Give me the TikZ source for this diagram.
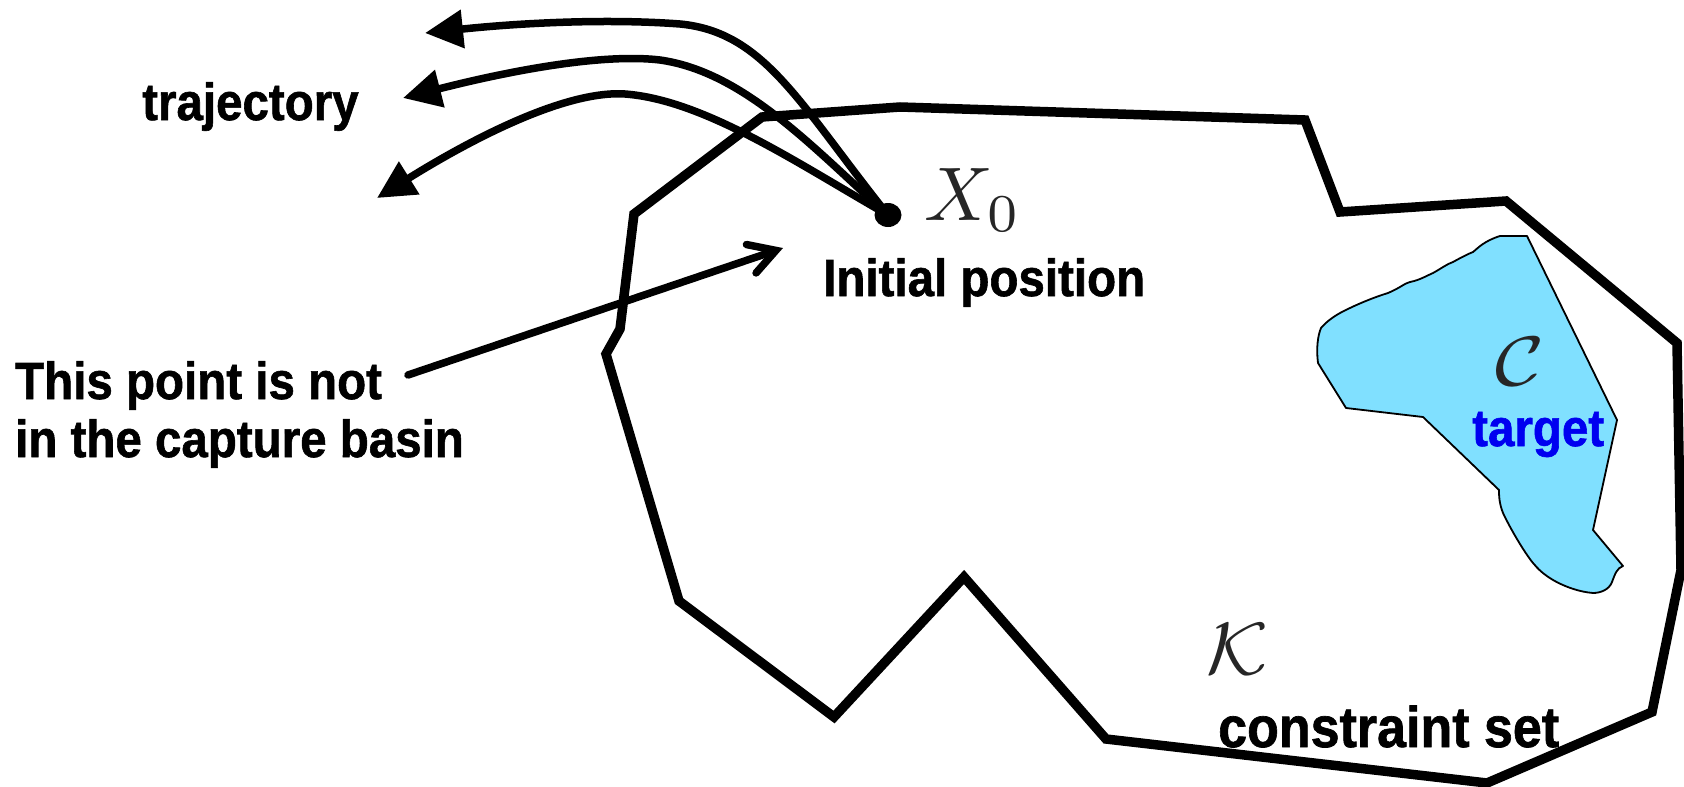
\documentclass[tikz,border=0pt]{standalone}
\usepackage[no-math]{fontspec}
\newfontfamily\labfont[BoldFeatures={FakeBold=1.2}]{Liberation Sans}
\usetikzlibrary{arrows.meta,shapes.geometric}
\definecolor{targetcyan}{RGB}{128,224,255}
\definecolor{targetblue}{RGB}{0,0,240}
\newcommand{\tallbox}[1]{\scalebox{1}[1.1]{#1}}
\tikzset{
  lab/.style={font=\labfont\bfseries\fontsize{47.5}{57}\selectfont, inner sep=0pt},
  mathlab/.style={inner sep=0pt, text=black!85},
  bound/.style={line width=9.5pt, line join=miter},
  traject/.style={line width=7.5pt, -{Triangle[length=38pt,width=37pt]}},
  pointer/.style={line width=7.5pt, line cap=round, -{Straight Barb[length=26pt,width=30pt,line cap=round]}},
}
\begin{document}
\begin{tikzpicture}[x=1pt,y=-1pt]
\useasboundingbox (0,0) rectangle (1684,787);

% constraint set K
\draw[bound] (762,117) -- (900,107) -- (1305,120) -- (1340,212) -- (1506,201)
  -- (1677,343) -- (1681,570) -- (1652,712) -- (1487,783) -- (1106,739)
  -- (964,577) -- (834,717) -- (679,601) -- (606,354) -- (620,329)
  -- (634,214) -- cycle;

% target C
\draw[fill=targetcyan, line width=1.8pt, line join=round]
  (1500,236) -- (1527,236) -- (1617,420) -- (1593,530) -- (1623,566)
  .. controls (1617,568) and (1615,574) .. (1612,582)
  .. controls (1609,590) and (1600,593) .. (1593,593)
  .. controls (1580,592) and (1565,587) .. (1553,580)
  .. controls (1543,574) and (1538,569) .. (1533,563)
  .. controls (1524,552) and (1510,528) .. (1503,513)
  .. controls (1499,503) and (1499,495) .. (1499,490)
  -- (1423,417) -- (1346,408) -- (1318,363)
  .. controls (1316,348) and (1318,335) .. (1321,328)
  .. controls (1326,322) and (1333,317) .. (1340,313)
  .. controls (1357,304) and (1375,297) .. (1388,293)
  .. controls (1400,288) and (1405,283) .. (1410,282)
  .. controls (1420,280) and (1426,276) .. (1433,273)
  .. controls (1442,268) and (1447,264) .. (1453,262)
  .. controls (1462,257) and (1468,254) .. (1473,252)
  .. controls (1478,248) and (1484,241) .. (1500,236) -- cycle;

% initial position
\node[ellipse, fill=black, minimum width=27pt, minimum height=24pt, inner sep=0pt] (x0) at (888,215) {};
\coordinate (tipA) at (425,33);
\coordinate (tipB) at (403,98);
\coordinate (tipC) at (377,198);
\draw[traject] (x0.center) .. controls (800,105) and (765,32) .. (680,24)
  .. controls (600,18) and (510,24) .. (tipA);
\draw[traject] (x0.center) .. controls (815,150) and (745,72) .. (660,60)
  .. controls (600,53) and (505,72) .. (tipB);
\draw[traject] (x0.center) .. controls (800,165) and (705,100) .. (625,94)
  .. controls (565,90) and (470,140) .. (tipC);

% labels
\node[lab, anchor=base west] (traj) at (142,120) {\tallbox{trajectory}};
\node[lab, anchor=base west] (init) at (823,296) {\tallbox{Initial position}};
\node[lab, anchor=base west] (notin1) at (15,399) {\tallbox{This point is not}};
\node[lab, anchor=base west] (notin2) at (15,457) {\tallbox{in the capture basin}};
\node[lab, anchor=base west, font=\labfont\bfseries\fontsize{52}{60}\selectfont] (cset) at (1218,747) {\tallbox{constraint set}};
\node[lab, anchor=base west, text=targetblue] (tgt) at (1472,446) {\tallbox{target}};
\node[mathlab] (x0lab) at (973,200) {\scalebox{7.6}{$X_0$}};
\node[mathlab] (clab) at (1520,362) {\scalebox{8.4}[7]{$\mathcal{C}$}};
\node[mathlab] (klab) at (1238,649) {\scalebox{8}[7.4]{$\mathcal{K}$}};

% pointer arrow
\coordinate (pstart) at (408,375);
\coordinate (pend) at (783,248);
\draw[pointer] (pstart) -- (pend);
\end{tikzpicture}
\end{document}
